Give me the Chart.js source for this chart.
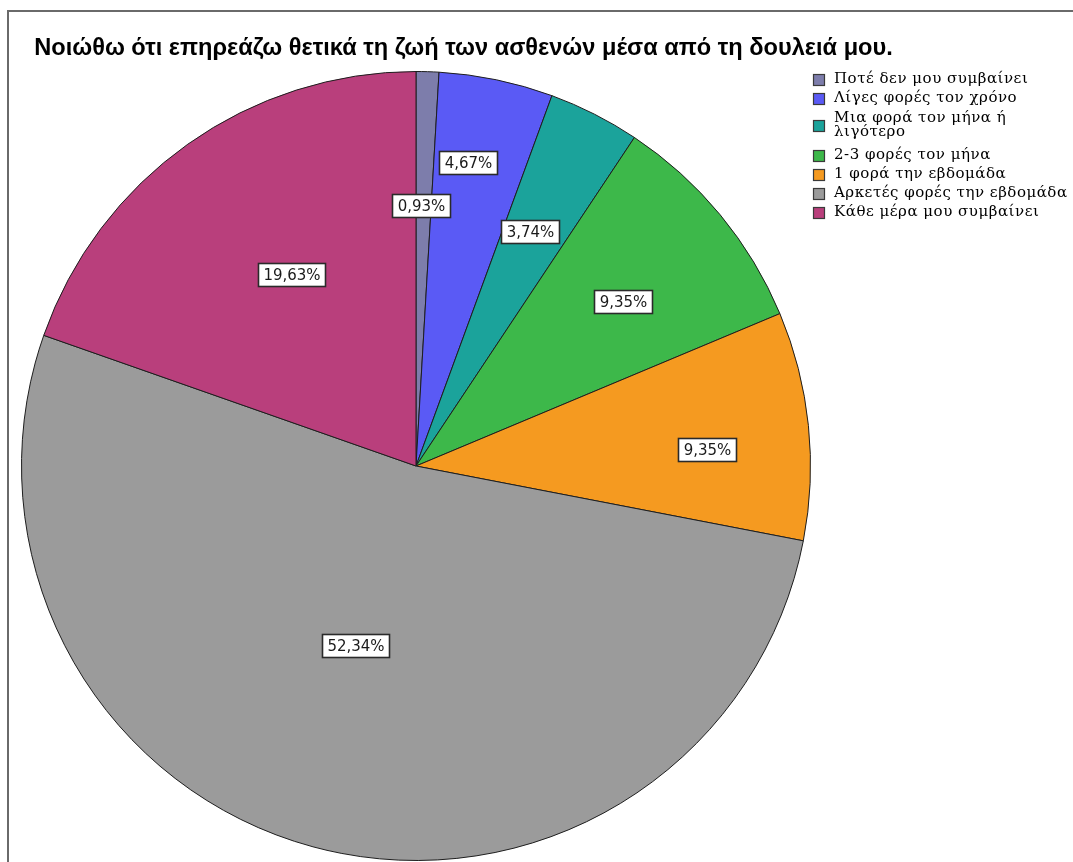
<!DOCTYPE html>
<html>
<head>
<meta charset="utf-8">
<script src="https://cdn.jsdelivr.net/npm/chart.js@4.4.1/dist/chart.umd.min.js"></script>
<style>
html,body{margin:0;padding:0;background:#fff;}
#wrap{position:relative;width:1073px;height:862px;}
</style>
</head>
<body>
<div id="wrap"><canvas id="c" width="1073" height="862"></canvas></div>
<script>
const chartTitle = 'Νοιώθω ότι επηρεάζω θετικά τη ζωή των ασθενών μέσα από τη δουλειά μου.';
const categories = [
  'Ποτέ δεν μου συμβαίνει',
  'Λίγες φορές τον χρόνο',
  'Μια φορά τον μήνα ή λιγότερο',
  '2-3 φορές τον μήνα',
  '1 φορά την εβδομάδα',
  'Αρκετές φορές την εβδομάδα',
  'Κάθε μέρα μου συμβαίνει'
];
const percentages = [0.93, 4.67, 3.74, 9.35, 9.35, 52.34, 19.63];
const sliceColors = ['#7d7dab', '#5a5af5', '#1ba39b', '#3db84a', '#f59a20', '#9b9b9b', '#b93f7c'];

const labelPlacement = {
  radius: [0.66, 0.78, 0.66, 0.67, 0.74, 0.48, 0.58],
  angleShift: [-0.6, -2.1, -1.0, 1.1, 2.6, 3.4, 2.3]
};

const framePlugin = {
  id: 'frame',
  beforeDraw(chart) {
    const ctx = chart.ctx;
    ctx.save();
    ctx.fillStyle = '#fff';
    ctx.fillRect(0, 0, chart.width, chart.height);
    ctx.strokeStyle = '#6a6a6a';
    ctx.lineWidth = 2;
    ctx.beginPath();
    ctx.moveTo(8, chart.height);
    ctx.lineTo(8, 11);
    ctx.lineTo(chart.width, 11);
    ctx.stroke();
    ctx.fillStyle = '#000';
    let size = 20;
    ctx.font = 'bold ' + size + 'px "Liberation Sans", Arial, sans-serif';
    const w = ctx.measureText(chartTitle).width;
    size = size * 859 / w;
    ctx.font = 'bold ' + size.toFixed(2) + 'px "Liberation Sans", Arial, sans-serif';
    ctx.textAlign = 'center';
    ctx.textBaseline = 'alphabetic';
    ctx.fillText(chartTitle, 463.5, 55);
    ctx.restore();
  }
};

const sliceLabelPlugin = {
  id: 'sliceLabels',
  afterDatasetsDraw(chart) {
    const ctx = chart.ctx;
    const meta = chart.getDatasetMeta(0);
    const data = chart.data.datasets[0].data;
    ctx.save();
    ctx.font = '15px "DejaVu Sans", Verdana, sans-serif';
    ctx.textAlign = 'center';
    ctx.textBaseline = 'middle';
    meta.data.forEach((arc, i) => {
      const p = arc.getProps(['x', 'y', 'startAngle', 'endAngle', 'outerRadius'], true);
      const mid = (p.startAngle + p.endAngle) / 2 + labelPlacement.angleShift[i] * Math.PI / 180;
      const r = p.outerRadius * labelPlacement.radius[i];
      const cx = p.x + Math.cos(mid) * r;
      const cy = p.y + Math.sin(mid) * r;
      const txt = data[i].toFixed(2).replace('.', ',') + '%';
      const tw = ctx.measureText(txt).width;
      const bw = Math.round(tw + 10), bh = 23;
      const bx = Math.round(cx - bw / 2) + 0.5, by = Math.round(cy - bh / 2) + 0.5;
      ctx.fillStyle = '#fff';
      ctx.fillRect(bx, by, bw, bh);
      ctx.strokeStyle = '#2a2a2a';
      ctx.lineWidth = 1.6;
      ctx.strokeRect(bx, by, bw, bh);
      ctx.fillStyle = '#1a1a1a';
      ctx.fillText(txt, bx + bw / 2, by + bh / 2 + 1);
    });
    ctx.restore();
  }
};

const legendPlugin = {
  id: 'customLegend',
  afterDraw(chart) {
    const ctx = chart.ctx;
    const colors = chart.data.datasets[0].backgroundColor;
    const labels = chart.data.labels;
    ctx.save();
    const ref = 'Αρκετές φορές την εβδομάδα';
    let fs = 15;
    ctx.font = fs + 'px "DejaVu Serif", "Liberation Serif", serif';
    let baseW = ctx.measureText(ref).width;
    if (baseW > 233) {
      fs = fs * 233 / baseW;
      ctx.font = fs.toFixed(2) + 'px "DejaVu Serif", "Liberation Serif", serif';
      baseW = ctx.measureText(ref).width;
    }
    const spacing = Math.max(0, (233 - baseW) / (ref.length - 1));
    if ('letterSpacing' in ctx) ctx.letterSpacing = spacing.toFixed(2) + 'px';
    ctx.textBaseline = 'middle';
    ctx.textAlign = 'left';
    const maxW = 236;
    const lh = 14;
    let y = 79;
    labels.forEach((lab, i) => {
      const words = lab.split(' ');
      const lines = [];
      let cur = '';
      words.forEach(wd => {
        const t = cur ? cur + ' ' + wd : wd;
        if (ctx.measureText(t).width > maxW && cur) { lines.push(cur); cur = wd; } else cur = t;
      });
      lines.push(cur);
      if (lines.length > 1) y += 1;
      const blockMid = y + (lines.length - 1) * lh / 2;
      const sy = Math.round(blockMid - 5.5) + 0.5;
      ctx.fillStyle = colors[i];
      ctx.fillRect(813.5, sy, 11, 11);
      ctx.strokeStyle = '#3a3a3a';
      ctx.lineWidth = 1.2;
      ctx.strokeRect(813.5, sy, 11, 11);
      ctx.fillStyle = '#000';
      lines.forEach((ln, k) => ctx.fillText(ln, 834, y + k * lh + 0.5));
      y += 19 + (lines.length - 1) * lh + (lines.length > 1 ? 4 : 0);
    });
    ctx.restore();
  }
};

new Chart(document.getElementById('c'), {
  type: 'pie',
  data: {
    labels: categories,
    datasets: [{
      data: percentages,
      backgroundColor: sliceColors,
      borderColor: '#1e1e1e',
      borderWidth: 1
    }]
  },
  options: {
    responsive: false,
    animation: false,
    layout: { padding: { top: 71, left: 20, right: 261, bottom: 1 } },
    plugins: {
      legend: { display: false },
      title: { display: false },
      tooltip: { enabled: false }
    }
  },
  plugins: [framePlugin, sliceLabelPlugin, legendPlugin]
});
</script>
</body>
</html>
